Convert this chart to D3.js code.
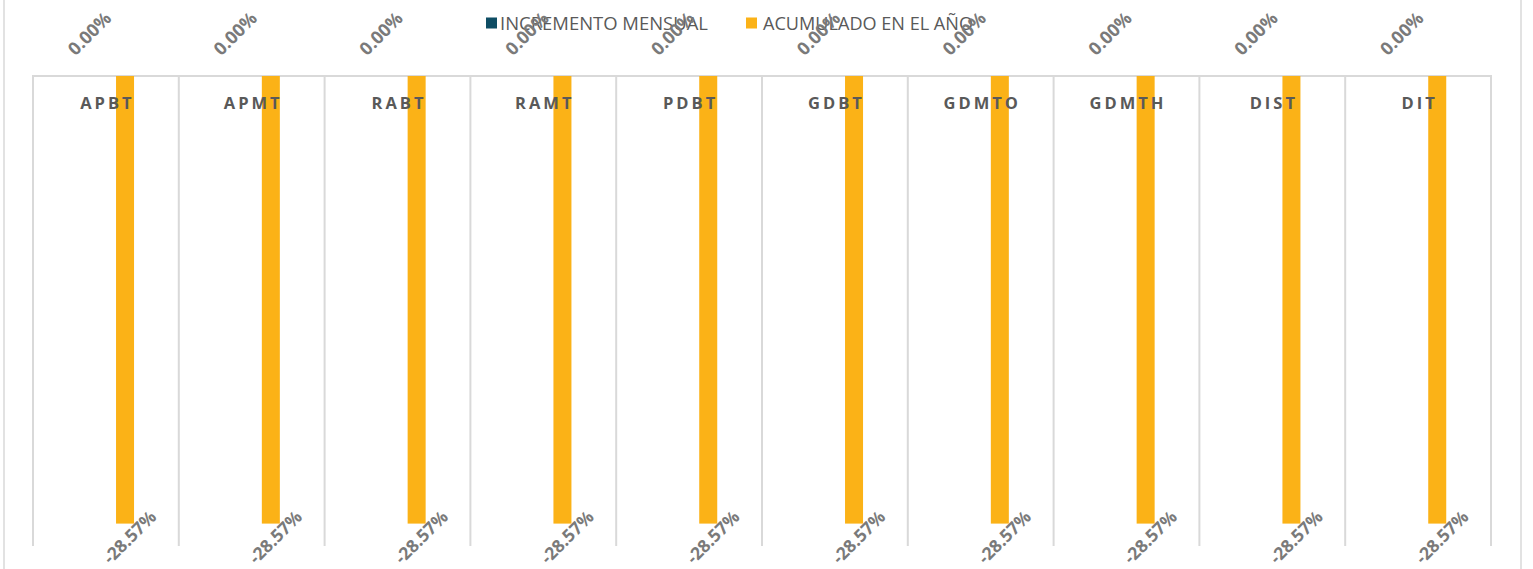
<!DOCTYPE html>
<html>
<head>
<meta charset="utf-8">
<script src="https://cdn.jsdelivr.net/npm/d3@7/dist/d3.min.js"></script>
<style>
  html, body { margin: 0; padding: 0; background: #ffffff; }
  svg { display: block; }
</style>
</head>
<body>
<svg id="chart" width="1533" height="569"></svg>
<script>
const categories = ["APBT", "APMT", "RABT", "RAMT", "PDBT", "GDBT", "GDMTO", "GDMTH", "DIST", "DIT"];
const seriesNames = ["INCREMENTO MENSUAL", "ACUMULADO EN EL AÑO"];
const incremento = [0, 0, 0, 0, 0, 0, 0, 0, 0, 0];
const acumulado = [-0.2857, -0.2857, -0.2857, -0.2857, -0.2857, -0.2857, -0.2857, -0.2857, -0.2857, -0.2857];
const colors = ["#0E4D64", "#FBB217"];

(function () {
const svg = d3.select("#chart");
const W = 1533, H = 569;
const mLeft = 33, mRight = 1491, mTop = 76, mBottom = 546;

// outer chart border
svg.append("rect").attr("x", 4).attr("y", -2).attr("width", 1517).attr("height", H + 4)
  .attr("fill", "none").attr("stroke", "#d9d9d9").attr("stroke-width", 1.5);

const x = d3.scaleBand().domain(categories).range([mLeft, mRight]).padding(0);
const bw = x.bandwidth();
const x1 = d3.scaleBand().domain(seriesNames).range([bw * 0.446, bw * 0.693]).padding(0);
const y = d3.scaleLinear().domain([-0.30, 0]).range([mBottom, mTop]);

// category dividers
const edges = categories.map(c => x(c)).concat([mRight]);
svg.append("g").selectAll("line").data(edges).join("line")
  .attr("x1", d => d).attr("x2", d => d)
  .attr("y1", y(0)).attr("y2", y(-0.30))
  .attr("stroke", "#d9d9d9").attr("stroke-width", 2);

// zero axis line
svg.append("line").attr("x1", mLeft - 1).attr("x2", mRight + 1).attr("y1", y(0)).attr("y2", y(0))
  .attr("stroke", "#d9d9d9").attr("stroke-width", 2);

// bars
const seriesData = [incremento, acumulado];
seriesData.forEach((vals, si) => {
  svg.append("g").selectAll("rect").data(categories).join("rect")
    .attr("x", (c) => x(c) + x1(seriesNames[si]))
    .attr("width", x1.bandwidth())
    .attr("y", (c, i) => Math.min(y(vals[i]), y(0)))
    .attr("height", (c, i) => Math.abs(y(vals[i]) - y(0)))
    .attr("fill", colors[si]);
});

// category labels (drawn over bars)
svg.append("g").selectAll("text").data(categories).join("text")
  .attr("x", d => x(d) + bw / 2 + 1.5)
  .attr("y", 109)
  .attr("text-anchor", "middle")
  .attr("font-family", "'Open Sans', sans-serif")
  .attr("font-weight", "bold")
  .attr("font-size", "16.5px")
  .attr("letter-spacing", "3px")
  .attr("fill", "#595959")
  .text(d => d);

// legend
const legendItems = [
  { name: seriesNames[0], color: colors[0], sx: 486, tx: 500, tl: 208 },
  { name: seriesNames[1], color: colors[1], sx: 746, tx: 763, tl: 210 }
];
const lg = svg.append("g");
legendItems.forEach(it => {
  lg.append("rect").attr("x", it.sx).attr("y", 17.5).attr("width", 11).attr("height", 11).attr("fill", it.color);
  lg.append("text").attr("x", it.tx).attr("y", 29.5)
    .attr("font-family", "'Open Sans', sans-serif")
    .attr("font-size", "19px")
    .attr("fill", "#595959")
    .attr("textLength", it.tl).attr("lengthAdjust", "spacingAndGlyphs")
    .text(it.name);
});

const fmt = v => d3.format(".2%")(v).replace("\u2212", "-");

// data labels: incremento (0.00%) above
svg.append("g").selectAll("text").data(categories).join("text")
  .attr("transform", (c, i) => {
    const cx = x(c) + x1(seriesNames[0]) + x1.bandwidth() / 2 - 18;
    const cy = y(Math.max(incremento[i], 0)) - 43;
    return `translate(${cx},${cy}) rotate(-45)`;
  })
  .attr("text-anchor", "middle")
  .attr("dominant-baseline", "central")
  .attr("font-family", "'Open Sans', sans-serif")
  .attr("font-weight", "bold")
  .attr("font-size", "18px")
  .attr("fill", "#7a7a7a")
  .text((c, i) => fmt(incremento[i]));

// data labels: acumulado below
svg.append("g").selectAll("text").data(categories).join("text")
  .attr("transform", (c, i) => {
    const cx = x(c) + x1(seriesNames[1]) + x1.bandwidth() / 2 + 4;
    const cy = y(acumulado[i]) + 13;
    return `translate(${cx},${cy}) rotate(-45)`;
  })
  .attr("text-anchor", "middle")
  .attr("dominant-baseline", "central")
  .attr("font-family", "'Open Sans', sans-serif")
  .attr("font-weight", "bold")
  .attr("font-size", "17.5px")
  .attr("fill", "#7a7a7a")
  .text((c, i) => fmt(acumulado[i]));
})();
</script>
</body>
</html>
